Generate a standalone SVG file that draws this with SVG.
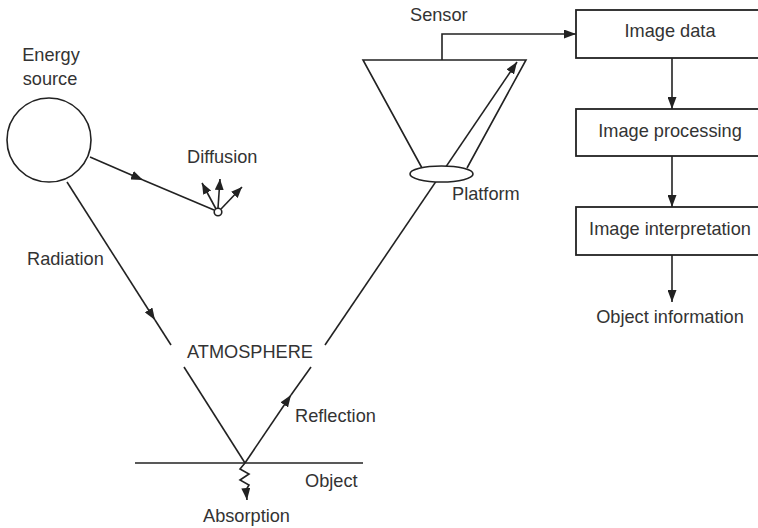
<svg xmlns="http://www.w3.org/2000/svg" width="758" height="528" viewBox="0 0 758 528">
<style>
.ln{fill:none;stroke:#222;stroke-width:1.6;stroke-linejoin:miter}
.bx{fill:#fff;stroke:#222;stroke-width:1.8}
.t{font-family:"Liberation Sans",Arial,sans-serif;font-size:18.2px;fill:#333}
.m{text-anchor:middle}
</style>
<defs>
<marker id="ah" markerUnits="userSpaceOnUse" markerWidth="13" markerHeight="9" refX="12" refY="4.5" orient="auto">
<path d="M0,0 L12,4.5 L0,9 z" fill="#222"/>
</marker>
<marker id="ahs" markerUnits="userSpaceOnUse" markerWidth="12" markerHeight="9" refX="11" refY="4.5" orient="auto">
<path d="M0,0 L11,4.5 L0,9 z" fill="#222"/>
</marker>
</defs>
<rect width="758" height="528" fill="#fff"/>
<g id="connectors">
<path class="ln" d="M67,182 L155,320" marker-end="url(#ah)"/>
<path class="ln" d="M155,320 L171,345"/>
<path class="ln" d="M184,367 L245,463"/>
<path class="ln" d="M90,157 L143,180" marker-end="url(#ah)"/>
<path class="ln" d="M143,180 L214,210"/>
<path class="ln" d="M216,209 L202,183" marker-end="url(#ahs)"/>
<path class="ln" d="M218,208 L220,179" marker-end="url(#ahs)"/>
<path class="ln" d="M221,209 L242,187" marker-end="url(#ahs)"/>
<path class="ln" d="M245,463 L291,395" marker-end="url(#ah)"/>
<path class="ln" d="M291,395 L311,367"/>
<path class="ln" d="M325,345 L517,62" marker-end="url(#ah)"/>
<path class="ln" d="M245,463 L240,469 L249,474 L240,480 L249,485 L246,490 L247,500" marker-end="url(#ah)"/>
<path class="ln" d="M442,60 L442,34 L576,34" marker-end="url(#ah)"/>
<path class="ln" d="M672,58 L672,109" marker-end="url(#ah)"/>
<path class="ln" d="M672,156 L672,207" marker-end="url(#ah)"/>
<path class="ln" d="M672,255 L672,302" marker-end="url(#ah)"/>
</g>
<g id="energy-source">
<circle class="ln" cx="49" cy="140" r="42"/>
<text class="t m" x="51" y="61">Energy</text>
<text class="t m" x="50" y="85">source</text>
</g>
<g id="diffusion">
<circle cx="218" cy="212" r="3.8" fill="#fff" stroke="#222" stroke-width="1.6"/>
<text class="t" x="187" y="163">Diffusion</text>
</g>
<g id="radiation-label">
<text class="t" x="27" y="265">Radiation</text>
</g>
<g id="atmosphere">
<text class="t" x="187" y="358">ATMOSPHERE</text>
</g>
<g id="reflection-label">
<text class="t" x="295" y="422">Reflection</text>
</g>
<g id="object">
<line class="ln" x1="135" y1="463" x2="363" y2="463"/>
<text class="t" x="305" y="487">Object</text>
</g>
<g id="absorption-label">
<text class="t" x="203" y="522">Absorption</text>
</g>
<g id="sensor">
<path class="ln" d="M422,168 L363,60 L526,60 L467,168"/>
<text class="t" x="410" y="21">Sensor</text>
</g>
<g id="platform">
<ellipse cx="441.5" cy="174" rx="31.5" ry="8" fill="#fff" stroke="#222" stroke-width="1.6"/>
<text class="t" x="452" y="200">Platform</text>
</g>
<g id="image-data">
<rect class="bx" x="576" y="10" width="200" height="48"/>
<text class="t m" x="670" y="37">Image data</text>
</g>
<g id="image-processing">
<rect class="bx" x="576" y="109" width="200" height="47"/>
<text class="t m" x="670" y="137">Image processing</text>
</g>
<g id="image-interpretation">
<rect class="bx" x="576" y="207" width="200" height="48"/>
<text class="t m" x="670" y="235">Image interpretation</text>
</g>
<g id="object-information">
<text class="t m" x="670" y="323">Object information</text>
</g>
</svg>
